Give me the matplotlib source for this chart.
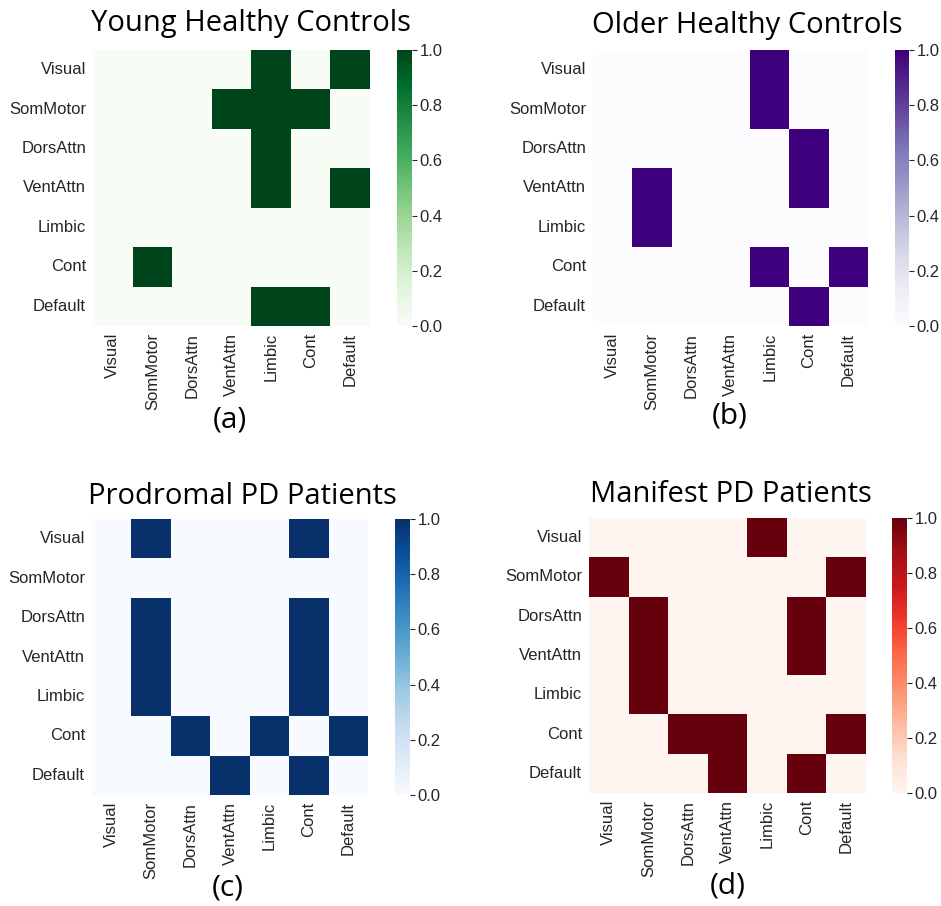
import matplotlib
matplotlib.use("Agg")
import matplotlib.pyplot as plt
import numpy as np
import seaborn as sns

networks = ["Visual", "SomMotor", "DorsAttn", "VentAttn", "Limbic", "Cont", "Default"]

# rows = networks (top to bottom), columns = networks (left to right)
young = [
    [0, 0, 0, 0, 1, 0, 1],
    [0, 0, 0, 1, 1, 1, 0],
    [0, 0, 0, 0, 1, 0, 0],
    [0, 0, 0, 0, 1, 0, 1],
    [0, 0, 0, 0, 0, 0, 0],
    [0, 1, 0, 0, 0, 0, 0],
    [0, 0, 0, 0, 1, 1, 0],
]
older = [
    [0, 0, 0, 0, 1, 0, 0],
    [0, 0, 0, 0, 1, 0, 0],
    [0, 0, 0, 0, 0, 1, 0],
    [0, 1, 0, 0, 0, 1, 0],
    [0, 1, 0, 0, 0, 0, 0],
    [0, 0, 0, 0, 1, 0, 1],
    [0, 0, 0, 0, 0, 1, 0],
]
prodromal = [
    [0, 1, 0, 0, 0, 1, 0],
    [0, 0, 0, 0, 0, 0, 0],
    [0, 1, 0, 0, 0, 1, 0],
    [0, 1, 0, 0, 0, 1, 0],
    [0, 1, 0, 0, 0, 1, 0],
    [0, 0, 1, 0, 1, 0, 1],
    [0, 0, 0, 1, 0, 1, 0],
]
manifest = [
    [0, 0, 0, 0, 1, 0, 0],
    [1, 0, 0, 0, 0, 0, 1],
    [0, 1, 0, 0, 0, 1, 0],
    [0, 1, 0, 0, 0, 1, 0],
    [0, 1, 0, 0, 0, 0, 0],
    [0, 0, 1, 1, 0, 0, 1],
    [0, 0, 0, 1, 0, 1, 0],
]

titles = ["Young Healthy Controls", "Older Healthy Controls",
          "Prodromal PD Patients", "Manifest PD Patients"]
letters = ["(a)", "(b)", "(c)", "(d)"]
cmaps = ["Greens", "Purples", "Blues", "Reds"]
mats = [young, older, prodromal, manifest]

W, H = 941, 906
fig = plt.figure(figsize=(W / 100, H / 100), dpi=100)

# pixel boxes: heatmap (left, top, right, bottom), colorbar (left, right), title xy, letter xy
hm_box = [(93, 50, 370, 326), (593, 50, 868, 326), (92, 519, 368, 795), (589, 518, 866, 793)]
cb_box = [(397, 412), (895, 909), (395, 410), (892, 907)]
title_xy = [(251, 24), (747, 26), (242, 497), (731, 495)]
letter_xy = [(230, 420), (730, 416), (228, 888), (728, 886)]

def fr(l, t, r, b):
    return [l / W, 1 - b / H, (r - l) / W, (b - t) / H]

tick_font = "Liberation Sans"
head_font = "Open Sans"

for i in range(4):
    l, t, r, b = hm_box[i]
    ax = fig.add_axes(fr(l, t, r, b))
    cl, cr = cb_box[i]
    cax = fig.add_axes(fr(cl, t, cr, b))
    sns.heatmap(np.array(mats[i]), ax=ax, cbar_ax=cax, cmap=cmaps[i], vmin=0, vmax=1,
                xticklabels=networks, yticklabels=networks)
    ax.tick_params(length=0, pad=5)
    for lab in ax.get_xticklabels():
        lab.set_rotation(90)
        lab.set_fontsize(12)
        lab.set_family(tick_font)
        lab.set_color("#262626")
    for lab in ax.get_yticklabels():
        lab.set_rotation(0)
        lab.set_fontsize(12)
        lab.set_family(tick_font)
        lab.set_color("#262626")
    cax.set_yticks([0, 0.2, 0.4, 0.6, 0.8, 1.0])
    cax.set_yticklabels(["0.0", "0.2", "0.4", "0.6", "0.8", "1.0"])
    cax.tick_params(length=3.5, width=0.8, pad=2, labelsize=12, colors="#262626")
    for lab in cax.get_yticklabels():
        lab.set_family(tick_font)
    for s in cax.spines.values():
        s.set_visible(False)

    fig.text(title_xy[i][0] / W, 1 - title_xy[i][1] / H, titles[i], ha="center", va="center",
             fontsize=21, family=head_font, color="black")
    fig.text(letter_xy[i][0] / W, 1 - letter_xy[i][1] / H, letters[i], ha="center", va="center",
             fontsize=21.5, family=head_font, color="black")

fig.savefig("out.png", dpi=100, facecolor="white")
